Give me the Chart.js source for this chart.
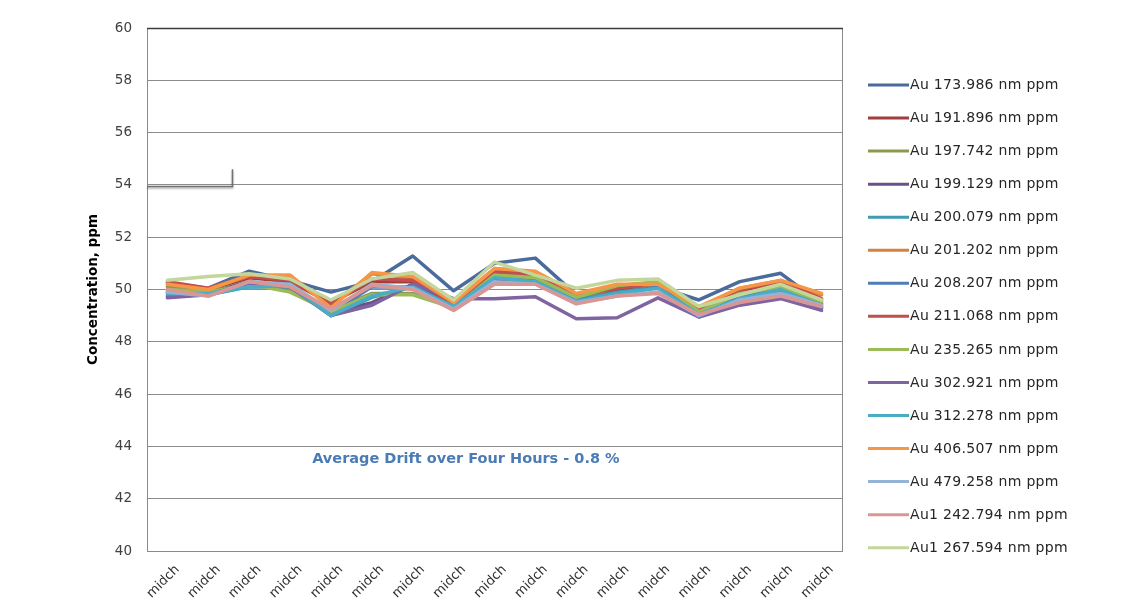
<!DOCTYPE html>
<html>
<head>
<meta charset="utf-8">
<script src="https://cdn.jsdelivr.net/npm/chart.js@4/dist/chart.umd.min.js"></script>
<style>
  html, body { margin: 0; padding: 0; background: #ffffff; }
  #wrap { position: relative; width: 1139px; height: 603px; }
</style>
</head>
<body>
<div id="wrap"><canvas id="c" width="1139" height="603"></canvas></div>
<script>
// Sample runs (17 mid-check readings)
const categories = ['midch','midch','midch','midch','midch','midch','midch','midch','midch','midch','midch','midch','midch','midch','midch','midch','midch'];

const seriesNames = [
  'Au 173.986 nm ppm', 'Au 191.896 nm ppm', 'Au 197.742 nm ppm', 'Au 199.129 nm ppm',
  'Au 200.079 nm ppm', 'Au 201.202 nm ppm', 'Au 208.207 nm ppm', 'Au 211.068 nm ppm',
  'Au 235.265 nm ppm', 'Au 302.921 nm ppm', 'Au 312.278 nm ppm', 'Au 406.507 nm ppm',
  'Au 479.258 nm ppm', 'Au1 242.794 nm ppm', 'Au1 267.594 nm ppm'
];

const au173 = [49.9, 50.05, 50.7, 50.35, 49.9, 50.3, 51.28, 49.95, 51.0, 51.2, 49.8, 49.85, 50.1, 49.6, 50.3, 50.62, 49.45];
const au191 = [50.2, 50.0, 50.45, 50.3, 49.5, 50.3, 50.3, 49.4, 50.6, 50.5, 49.7, 50.0, 50.2, 49.2, 49.9, 50.2, 49.6];
const au197 = [50.1, 49.9, 50.3, 50.0, 49.2, 49.85, 49.85, 49.3, 50.5, 50.4, 49.6, 50.1, 50.25, 49.2, 49.8, 50.0, 49.5];
const au199 = [49.75, 49.85, 50.3, 50.1, 49.1, 49.5, 50.2, 49.3, 50.4, 50.3, 49.6, 49.8, 50.1, 49.0, 49.6, 49.9, 49.3];
const au200 = [49.8, 49.8, 50.1, 50.1, 49.0, 49.7, 50.1, 49.3, 50.5, 50.35, 49.6, 49.9, 50.1, 49.0, 49.7, 50.0, 49.4];
const au201 = [50.25, 50.05, 50.5, 50.5, 49.4, 50.6, 50.45, 49.5, 50.8, 50.65, 49.8, 50.1, 50.2, 49.3, 50.05, 50.35, 49.8];
const au208 = [49.9, 49.8, 50.15, 50.2, 49.1, 50.1, 50.1, 49.3, 50.5, 50.4, 49.6, 49.8, 50.1, 48.95, 49.7, 49.95, 49.3];
const au211 = [50.3, 50.05, 50.5, 50.35, 49.45, 50.4, 50.35, 49.45, 50.7, 50.55, 49.75, 50.05, 50.25, 49.25, 50.0, 50.3, 49.65];
const au235 = [50.0, 49.9, 50.2, 49.9, 49.15, 49.8, 49.8, 49.3, 50.55, 50.45, 49.7, 50.15, 50.3, 49.15, 49.85, 50.1, 49.55];
const au302 = [49.68, 49.8, 50.25, 50.1, 49.0, 49.4, 50.2, 49.65, 49.65, 49.72, 48.88, 48.92, 49.68, 48.95, 49.4, 49.65, 49.2];
const au312 = [49.85, 49.85, 50.1, 50.15, 49.0, 49.75, 50.1, 49.35, 50.45, 50.3, 49.55, 49.85, 50.05, 49.05, 49.65, 50.0, 49.35];
const au406 = [50.2, 50.0, 50.55, 50.55, 49.3, 50.65, 50.5, 49.5, 50.8, 50.7, 49.85, 50.2, 50.2, 49.35, 50.05, 50.35, 49.85];
const au479 = [49.9, 49.75, 50.3, 50.2, 49.2, 50.2, 50.05, 49.25, 50.3, 50.2, 49.5, 49.75, 49.9, 49.0, 49.6, 49.85, 49.4];
const au1_242 = [50.0, 49.75, 50.3, 50.1, 49.25, 50.15, 50.0, 49.2, 50.2, 50.2, 49.45, 49.75, 49.85, 49.05, 49.5, 49.75, 49.35];
const au1_267 = [50.35, 50.5, 50.6, 50.4, 49.6, 50.4, 50.65, 49.6, 51.05, 50.55, 50.05, 50.35, 50.4, 49.35, 49.8, 50.2, 49.6];

const seriesValues = [au173, au191, au197, au199, au200, au201, au208, au211, au235, au302, au312, au406, au479, au1_242, au1_267];

const yTicks = [40, 42, 44, 46, 48, 50, 52, 54, 56, 58, 60];

const seriesColors = [
  '#4a6b9c', '#a0403d', '#8a9b4d', '#6b5189', '#3f9bb0', '#d7813e', '#4f7db7', '#c0504d',
  '#9bbb59', '#8064a2', '#4bacc6', '#f79646', '#95b3d7', '#d99694', '#c3d69b'
];

const FONT = '"DejaVu Sans", "Open Sans", sans-serif';

// Legend drawn beside the plot, one line sample per series
const sideLegend = {
  id: 'sideLegend',
  afterDraw(chart) {
    const ctx = chart.ctx;
    ctx.save();
    const x0 = 868, len = 41, top = 85, step = 33.05;
    chart.data.datasets.forEach((ds, i) => {
      const y = top + i * step;
      ctx.strokeStyle = ds.borderColor;
      ctx.lineWidth = 3;
      ctx.beginPath();
      ctx.moveTo(x0, y);
      ctx.lineTo(x0 + len, y);
      ctx.stroke();
      ctx.fillStyle = '#262626';
      ctx.font = '14px ' + FONT;
      ctx.letterSpacing = '0.3px';
      ctx.textBaseline = 'middle';
      ctx.textAlign = 'left';
      ctx.fillText(ds.label, x0 + len + 1, y + 0.5);
    });
    ctx.restore();
  }
};

// Plot frame, note text and the small connector stub near the 54 gridline
const plotDecor = {
  id: 'plotDecor',
  beforeDatasetsDraw(chart) {
    const { ctx, chartArea: a, scales } = chart;
    ctx.save();
    ctx.lineWidth = 1;
    ctx.strokeStyle = '#8a8a8a';
    ctx.beginPath();
    ctx.moveTo(a.right + 0.5, a.top);
    ctx.lineTo(a.right + 0.5, a.bottom);
    ctx.stroke();
    ctx.strokeStyle = '#3c3c3c';
    ctx.lineWidth = 1.5;
    ctx.beginPath();
    ctx.moveTo(a.left, a.top + 0.5);
    ctx.lineTo(a.right + 1, a.top + 0.5);
    ctx.stroke();
    // connector stub
    const y54 = scales.y.getPixelForValue(54) + 1.5;
    const yUp = scales.y.getPixelForValue(54.6);
    const xe = a.left + (a.right - a.left) * 0.123;
    ctx.strokeStyle = '#707070';
    ctx.lineWidth = 1.5;
    ctx.shadowColor = 'rgba(0,0,0,0.35)';
    ctx.shadowOffsetY = 1.5;
    ctx.shadowBlur = 2;
    ctx.beginPath();
    ctx.moveTo(a.left, y54);
    ctx.lineTo(xe, y54);
    ctx.lineTo(xe, yUp);
    ctx.stroke();
    ctx.restore();
  },
  afterDraw(chart) {
    const { ctx, scales } = chart;
    ctx.save();
    ctx.fillStyle = '#4a7bb5';
    ctx.font = 'bold 14.5px ' + FONT;
    ctx.textAlign = 'center';
    ctx.textBaseline = 'middle';
    const x = scales.x.getPixelForValue(7.3);
    const y = scales.y.getPixelForValue(43.5);
    ctx.fillText('Average Drift over Four Hours - 0.8 %', x, y);
    ctx.restore();
  }
};

const datasets = seriesNames.map((name, i) => ({
  label: name,
  data: seriesValues[i],
  borderColor: seriesColors[i],
  backgroundColor: seriesColors[i],
  borderWidth: 3.5,
  pointRadius: 0,
  pointHoverRadius: 0,
  tension: 0,
  fill: false,
  borderJoinStyle: 'round',
  borderCapStyle: 'round',
  order: seriesNames.length - i
}));

new Chart(document.getElementById('c'), {
  type: 'line',
  data: { labels: categories, datasets },
  plugins: [sideLegend, plotDecor],
  options: {
    responsive: false,
    animation: false,
    events: [],
    layout: { padding: { left: 85, right: 297, top: 28, bottom: 0 } },
    plugins: {
      legend: { display: false },
      tooltip: { enabled: false },
      title: { display: false }
    },
    scales: {
      x: {
        type: 'category',
        offset: true,
        grid: { display: false, drawTicks: false },
        border: { display: true, color: '#8a8a8a', width: 1 },
        ticks: {
          minRotation: 45,
          maxRotation: 45,
          autoSkip: false,
          padding: 11,
          labelOffset: 10,
          color: '#333333',
          font: { family: FONT, size: 13 }
        },
        afterFit(scale) { scale.height = 52; }
      },
      y: {
        min: 40,
        max: 60,
        afterBuildTicks(scale) { scale.ticks = yTicks.map(v => ({ value: v })); },
        grid: { color: '#8c8c8c', lineWidth: 1, drawTicks: false },
        border: { display: true, color: '#8a8a8a', width: 1 },
        ticks: {
          padding: 15,
          color: '#404040',
          font: { family: FONT, size: 13.5 }
        },
        title: {
          display: true,
          text: 'Concentration, ppm',
          color: '#000000',
          font: { family: FONT, size: 13.5, weight: 'bold' },
          padding: { top: 0, bottom: 0 }
        },
        afterFit(scale) { scale.width = 62; }
      }
    }
  }
});
</script>
</body>
</html>
